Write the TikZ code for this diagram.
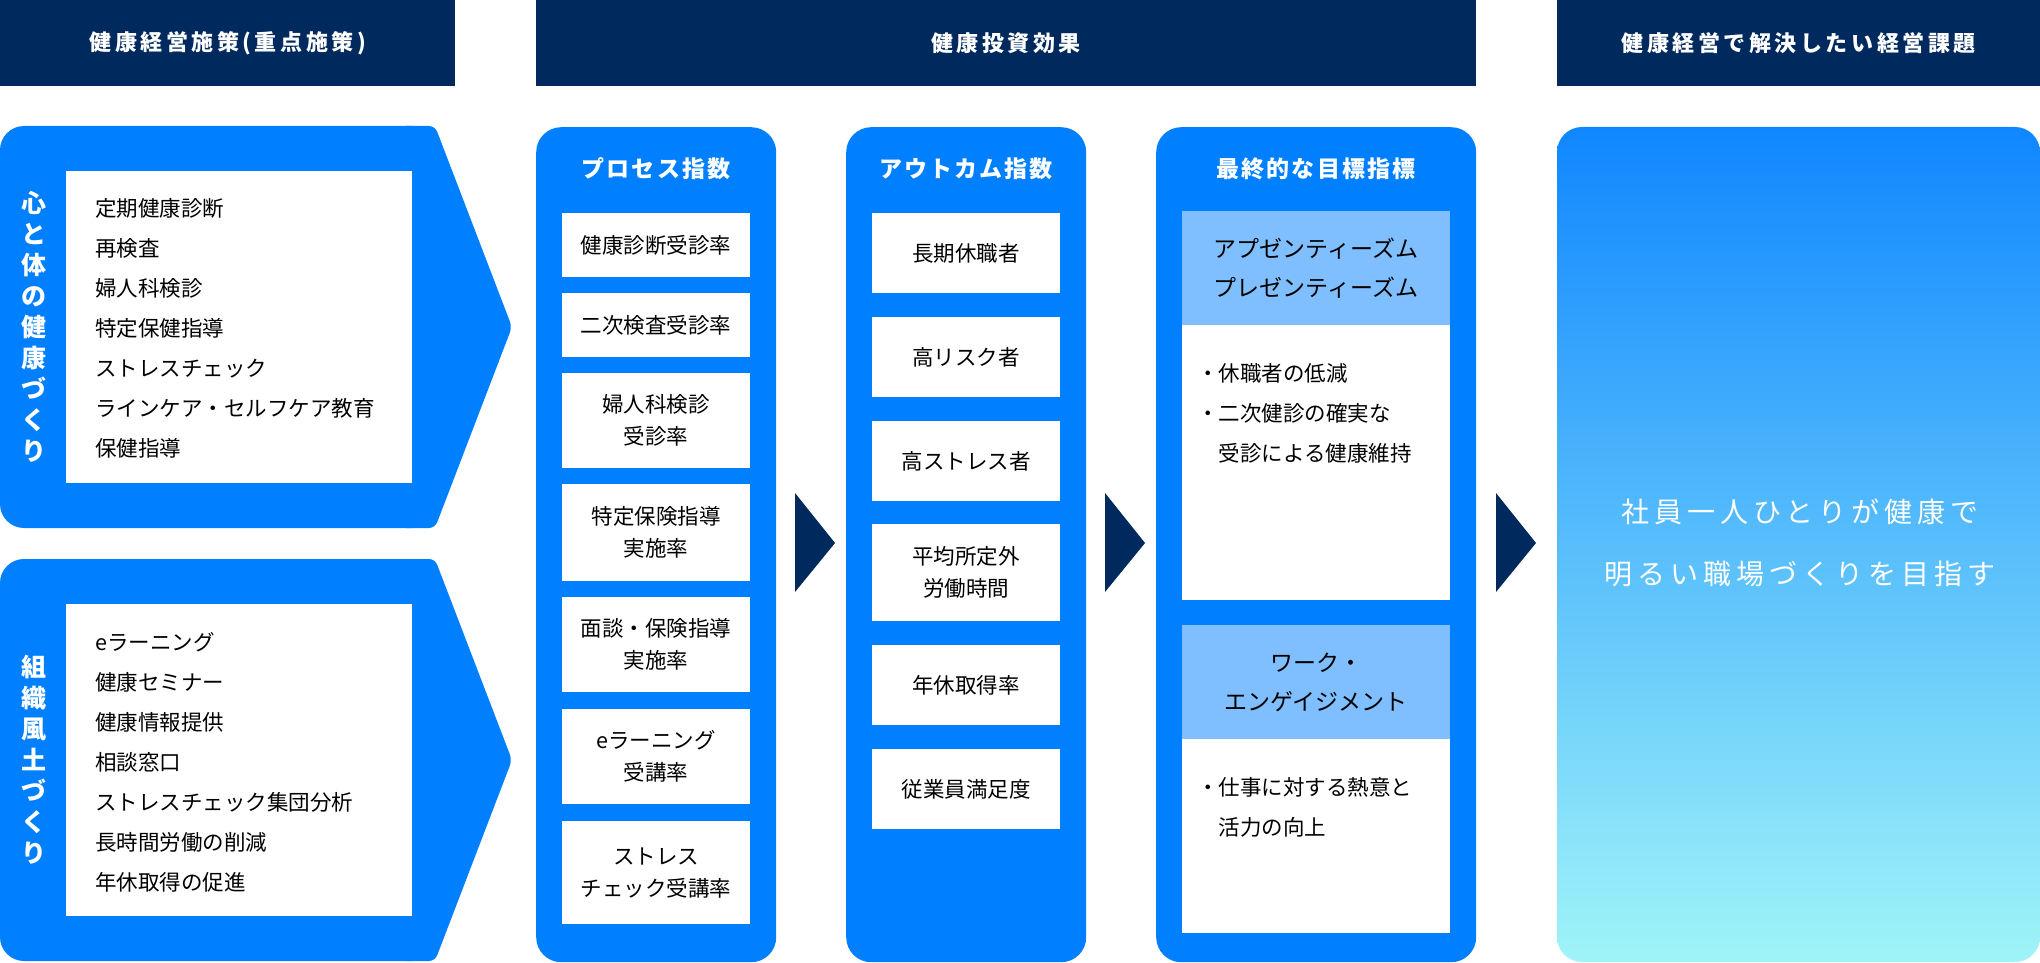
\documentclass[tikz,border=0pt]{standalone}
\usepackage{fontspec}
\setmainfont{Noto Sans CJK JP}
\newfontfamily\hdfont[LetterSpace=16]{Noto Sans CJK JP}
\newfontfamily\ttlfont[LetterSpace=9]{Noto Sans CJK JP}
\newfontfamily\goalfont[LetterSpace=18]{Noto Sans CJK JP}
\definecolor{navy}{HTML}{00295E}
\definecolor{cblue}{HTML}{0080FF}
\definecolor{lblue}{HTML}{80BFFF}
\definecolor{gtop}{RGB}{15,135,255}
\definecolor{gbot}{RGB}{160,244,248}
\begin{document}
\begin{tikzpicture}[x=1pt,y=-1pt,
  hdr/.style={fill=navy, text=white, font=\hdfont\bfseries\fontsize{22}{26}\selectfont, inner sep=0pt, anchor=north west},
  col/.style={fill=cblue, rounded corners=25pt, inner sep=0pt, anchor=north west},
  ttl/.style={text=white, inner sep=0pt, font=\ttlfont\bfseries\fontsize{23}{28}\selectfont},
  wbox/.style={fill=white, inner sep=0pt, anchor=north west, align=center, font=\fontsize{21.5}{32}\selectfont},
  lbox/.style={fill=lblue, inner sep=0pt, anchor=north west, align=center, font=\fontsize{23}{39.5}\selectfont},
  plain/.style={fill=white, inner sep=0pt, anchor=north west},
  items/.style={align=left, anchor=west, inner sep=0pt, font=\fontsize{21.5}{40}\selectfont},
  vtext/.style={align=center, inner sep=0pt, text=white, font=\bfseries\fontsize{25}{31}\selectfont},
  goaltext/.style={align=center, inner sep=0pt, text=white, font=\goalfont\fontsize{28}{62}\selectfont},
  arr/.style={fill=navy}
]
\useasboundingbox (0,0) rectangle (2040,963);

% headers
\node[hdr, minimum width=455pt, minimum height=86pt] (h1) at (0,0) {健康経営施策(重点施策)};
\node[hdr, minimum width=940pt, minimum height=86pt] (h2) at (536,0) {健康投資効果};
\node[hdr, minimum width=483pt, minimum height=86pt] (h3) at (1557,0) {健康経営で解決したい経営課題};

% chevron 1
\fill[cblue, rounded corners=24pt] (0,126) rectangle (436,528);
\fill[cblue, rounded corners=6pt] (400,126) -- (435,126) -- (512,327) -- (435,528) -- (400,528) -- cycle;
\node[plain, minimum width=346pt, minimum height=312pt] (w1) at (66,171) {};
\node[vtext] (v1) at (34,327) {心\\と\\体\\の\\健\\康\\づ\\く\\り};
\node[items] (l1) at (95,328) {定期健康診断\\再検査\\婦人科検診\\特定保健指導\\ストレスチェック\\ラインケア・セルフケア教育\\保健指導};

% chevron 2
\fill[cblue, rounded corners=24pt] (0,559) rectangle (436,961);
\fill[cblue, rounded corners=6pt] (400,559) -- (435,559) -- (512,760) -- (435,961) -- (400,961) -- cycle;
\node[plain, minimum width=346pt, minimum height=312pt] (w2) at (66,604) {};
\node[vtext] (v2) at (34,760) {組\\織\\風\\土\\づ\\く\\り};
\node[items] (l2) at (95,762) {eラーニング\\健康セミナー\\健康情報提供\\相談窓口\\ストレスチェック集団分析\\長時間労働の削減\\年休取得の促進};

% process column
\node[col, minimum width=240pt, minimum height=835pt] (pc) at (536,127) {};
\node[ttl] (pt) at (656,169) {プロセス指数};
\node[wbox, minimum width=188pt, minimum height=64pt] (p1) at (562,213) {健康診断受診率};
\node[wbox, minimum width=188pt, minimum height=64pt] (p2) at (562,293) {二次検査受診率};
\node[wbox, minimum width=188pt, minimum height=95pt] (p3) at (562,373) {婦人科検診\\受診率};
\node[wbox, minimum width=188pt, minimum height=97pt] (p4) at (562,484) {特定保険指導\\実施率};
\node[wbox, minimum width=188pt, minimum height=95pt] (p5) at (562,597) {面談・保険指導\\実施率};
\node[wbox, minimum width=188pt, minimum height=95pt] (p6) at (562,709) {eラーニング\\受講率};
\node[wbox, minimum width=188pt, minimum height=103pt] (p7) at (562,821) {ストレス\\チェック受講率};

% outcome column
\node[col, minimum width=240pt, minimum height=835pt] (oc) at (846,127) {};
\node[ttl] (ot) at (966,169) {アウトカム指数};
\node[wbox, minimum width=188pt, minimum height=80pt] (o1) at (872,213) {長期休職者};
\node[wbox, minimum width=188pt, minimum height=80pt] (o2) at (872,317) {高リスク者};
\node[wbox, minimum width=188pt, minimum height=80pt] (o3) at (872,421) {高ストレス者};
\node[wbox, minimum width=188pt, minimum height=97pt] (o4) at (872,524) {平均所定外\\労働時間};
\node[wbox, minimum width=188pt, minimum height=80pt] (o5) at (872,645) {年休取得率};
\node[wbox, minimum width=188pt, minimum height=80pt] (o6) at (872,749) {従業員満足度};

% final column
\node[col, minimum width=320pt, minimum height=835pt] (fc) at (1156,127) {};
\node[ttl] (ft) at (1316,169) {最終的な目標指標};
\node[lbox, minimum width=268pt, minimum height=114pt] (f1) at (1182,211) {アプゼンティーズム\\プレゼンティーズム};
\node[plain, minimum width=268pt, minimum height=275pt] (f1w) at (1182,325) {};
\node[items] (f1t) at (1197,413) {・休職者の低減\\・二次健診の確実な\\\hspace*{1em}受診による健康維持};
\node[lbox, minimum width=268pt, minimum height=114pt] (f2) at (1182,625) {ワーク・\\エンゲイジメント};
\node[plain, minimum width=268pt, minimum height=194pt] (f2w) at (1182,739) {};
\node[items] (f2t) at (1197,807) {・仕事に対する熱意と\\\hspace*{1em}活力の向上};

% goal column
\shade[top color=gtop, bottom color=gbot, rounded corners=25pt] (1557,127) rectangle (2040,962);
\node[goaltext] (goal) at (1800,543) {社員一人ひとりが健康で\\明るい職場づくりを目指す};

% arrows
\fill[arr] (795,493) -- (835,543) -- (795,592) -- cycle;
\fill[arr] (1105,493) -- (1145,543) -- (1105,592) -- cycle;
\fill[arr] (1496,493) -- (1536,543) -- (1496,592) -- cycle;
\end{tikzpicture}
\end{document}
